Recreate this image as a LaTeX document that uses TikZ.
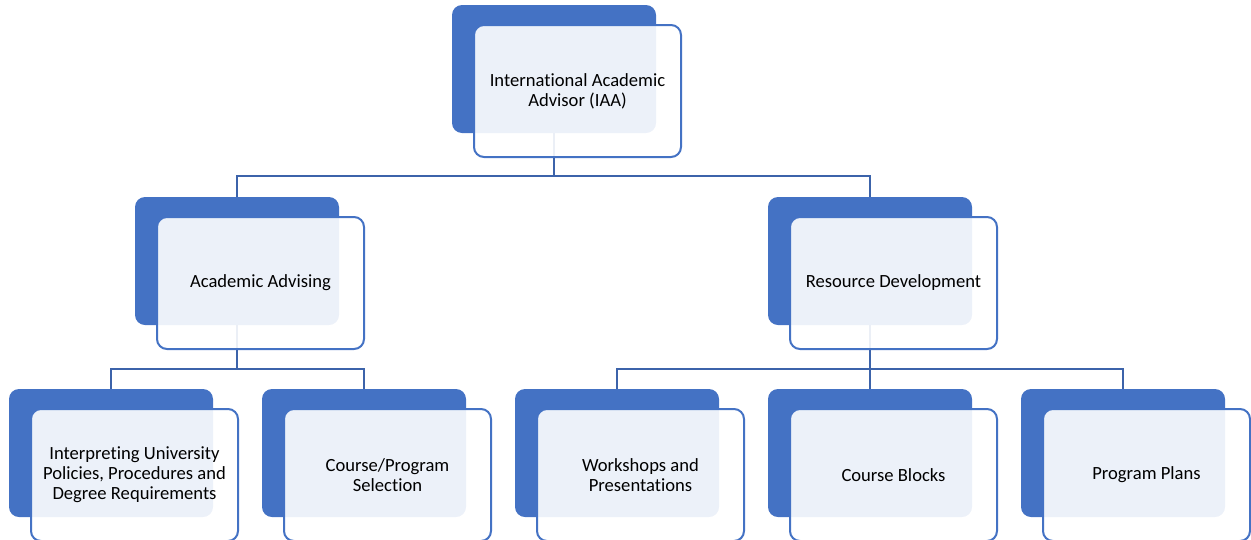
\documentclass[tikz,border=0pt]{standalone}
\usepackage{fontspec}
\setmainfont{Carlito}[RawFeature={-liga}]
\definecolor{accent}{HTML}{4472C4}
\definecolor{conn}{HTML}{3C63AA}
\begin{document}
\begin{tikzpicture}[x=1pt,y=-1pt,
  backbox/.style={fill=accent,rounded corners=10pt},
  frontbox/.style={draw=accent,line width=2pt,fill=white,fill opacity=0.9,draw opacity=1,rounded corners=10pt},
  lbl/.style={align=center,font=\fontsize{18.6}{20}\selectfont,text=black,inner sep=0pt},
  connector/.style={draw=conn,line width=2.2pt}]
\useasboundingbox (0,0) rectangle (1251,539);
% helper: \orgnode{name}{x-left of back}{y-top of back}{text}
\newcommand{\orgnode}[4]{%
  \path[backbox] (#2,#3) rectangle ++(204,128);
  \path[frontbox] ({#2+22},{#3+20}) rectangle ++(207,132);
  \node[lbl] (#1) at ({#2+22+103.5},{#3+20+66}) {#4};
}
% connectors (drawn first, so that the front boxes cover them lightly)
\coordinate (iaa-b) at (554,133);
\coordinate (aa-t) at (237,197);
\coordinate (rd-t) at (870,197);
\coordinate (aa-b) at (237,325);
\coordinate (rd-b) at (870,325);
\coordinate (c1) at (111,389);
\coordinate (c2) at (364,389);
\coordinate (c3) at (617,389);
\coordinate (c4) at (870,389);
\coordinate (c5) at (1123,389);
\draw[connector] (iaa-b) -- (554,176) -| (aa-t);
\draw[connector] (554,176) -| (rd-t);
\draw[connector] (aa-b) -- (237,369) -| (c1);
\draw[connector] (237,369) -| (c2);
\draw[connector] (rd-b) -- (870,369) -| (c3);
\draw[connector] (870,369) -- (c4);
\draw[connector] (870,369) -| (c5);
% boxes
\orgnode{iaa}{452}{5}{International Academic\\Advisor (IAA)}
\orgnode{aa}{135}{197}{Academic Advising}
\orgnode{rd}{768}{197}{Resource Development}
\orgnode{n1}{9}{389}{Interpreting University\\Policies, Procedures and\\Degree Requirements}
\orgnode{n2}{262}{389}{Course/Program\\Selection}
\orgnode{n3}{515}{389}{Workshops and\\Presentations}
\orgnode{n4}{768}{389}{Course Blocks}
\orgnode{n5}{1021}{389}{Program Plans}
\end{tikzpicture}
\end{document}
